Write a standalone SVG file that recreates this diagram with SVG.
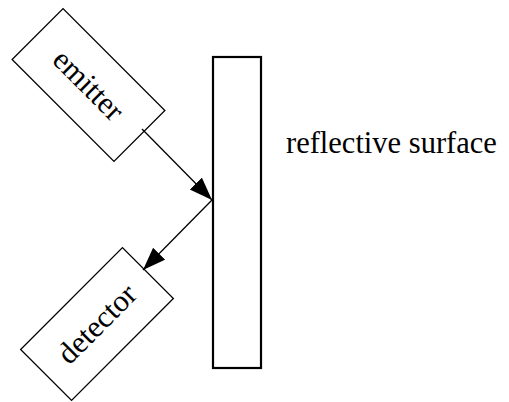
<svg xmlns="http://www.w3.org/2000/svg" width="509" height="402" viewBox="0 0 509 402">
<defs>
<style>
.box{fill:#fff;stroke:#000;stroke-width:1.3}
.surf{fill:#fff;stroke:#000;stroke-width:2.2}
.lbl{font-family:"Liberation Serif","Times New Roman",serif;font-size:30.5px;fill:#000}
.edge{stroke:#000;stroke-width:1.3;fill:none}
</style>
<marker id="ah" markerUnits="userSpaceOnUse" markerWidth="24" markerHeight="18" refX="23" refY="8.5" orient="auto">
<path d="M0,0 L23,8.5 L0,17 z" fill="#000"/>
</marker>
</defs>
<g id="surface">
<rect class="surf" x="213" y="57" width="48" height="311"/>
<text class="lbl" x="286" y="153">reflective surface</text>
</g>
<g id="emitter" transform="rotate(45 88.5 85)">
<rect class="box" x="16.5" y="49" width="144" height="72"/>
<text class="lbl" x="88.5" y="95" text-anchor="middle">emitter</text>
</g>
<g id="detector" transform="rotate(-45 97 324)">
<rect class="box" x="25" y="288" width="144" height="72"/>
<text class="lbl" x="97" y="334" text-anchor="middle">detector</text>
</g>
<g id="connectors">
<line class="edge" x1="142" y1="129" x2="212" y2="200" marker-end="url(#ah)"/>
<line class="edge" x1="212" y1="200" x2="143" y2="270" marker-end="url(#ah)"/>
</g>
</svg>
